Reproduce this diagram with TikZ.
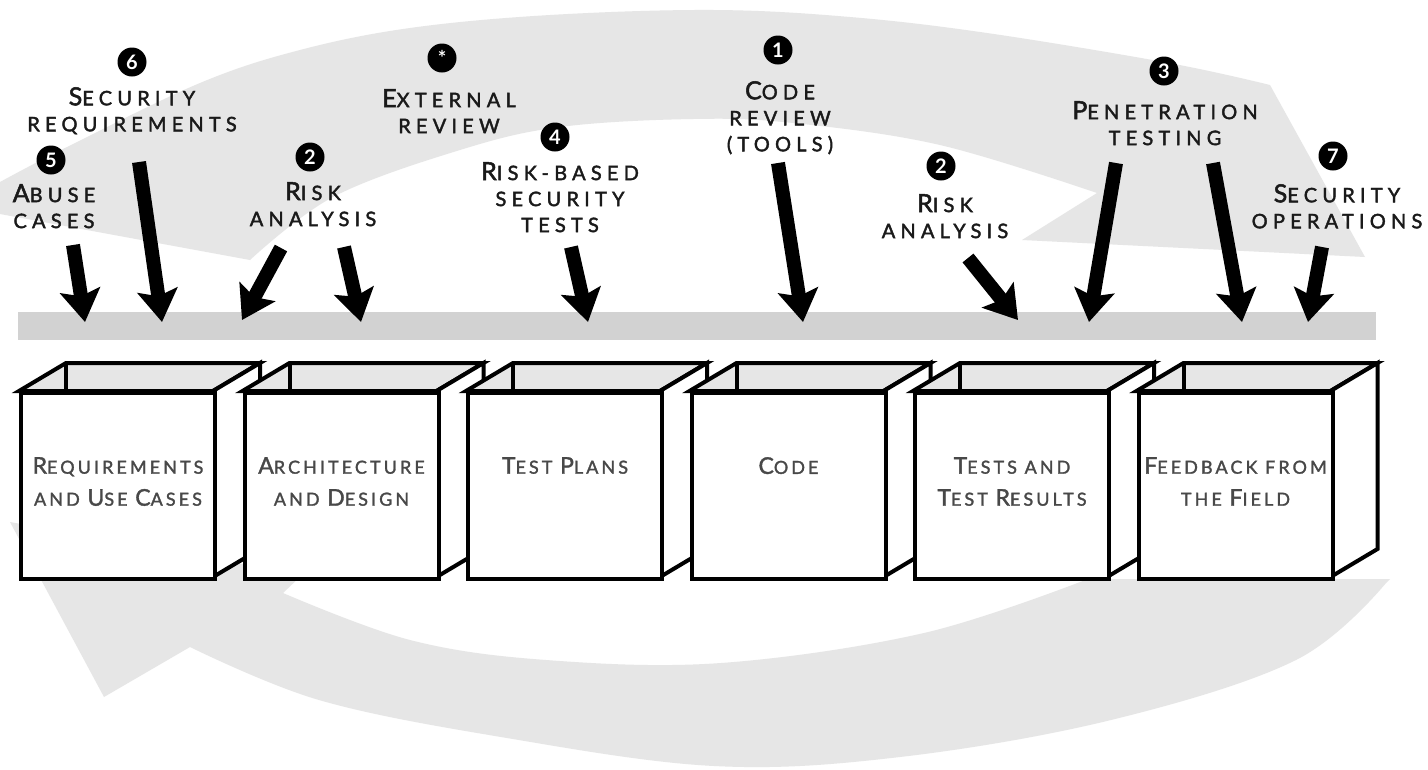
\documentclass[tikz,border=0pt]{standalone}
\usepackage{fontspec}
\setmainfont{Lato}
\newfontfamily\lblfont[LetterSpace=26,FakeBold=2]{Lato}
\newfontfamily\boxfont[LetterSpace=17,FakeBold=1.6]{Lato}
\usetikzlibrary{arrows.meta}

\definecolor{arcgray}{HTML}{E6E6E6}
\definecolor{bargray}{HTML}{D2D2D2}
\definecolor{ink}{HTML}{1A1A1A}

% capital letter of a small-caps word
\newcommand\BigT[1]{{\fontsize{25}{26}\selectfont #1}}
\newcommand\BigB[1]{{\fontsize{23}{32}\selectfont #1}}

\tikzset{
  toplbl/.style={font=\lblfont\fontsize{20}{26}\selectfont, align=center,
    inner sep=0pt, anchor=north, text=ink},
  boxlbl/.style={font=\boxfont\fontsize{18}{32}\selectfont, align=center,
    inner sep=0pt, anchor=north, text=ink!80},
  num/.style={circle, fill=black, minimum size=29pt, inner sep=0pt,
    text=white, font=\bfseries\fontsize{20}{20}\selectfont},
  touch/.style={line width=14pt, -{Stealth[length=32pt,width=40pt,inset=6pt]}},
  front/.style={draw, line width=4pt, fill=white, minimum width=194pt,
    minimum height=186pt, inner sep=0pt, anchor=north west},
  panel/.style={draw, line width=4pt, fill=white, line join=miter},
  topface/.style={draw, line width=4pt, fill=arcgray, line join=miter},
}

\begin{document}
\begin{tikzpicture}[x=1pt,y=-1pt]
\useasboundingbox (0,0) rectangle (1428,769);
\fill[white] (0,0) rectangle (1428,769);

% upper half of the cycle arrow, head on the right
\fill[arcgray] (0,214) -- (250,260)
  -- plot[smooth, tension=0.6] coordinates {(250,260) (333,197) (460,150) (560,127)
     (693,119) (793,123) (940,145) (1097,193)}
  -- (1022,240) -- (1365,257) -- (1270,85)
  -- plot[smooth, tension=0.6] coordinates {(1270,85) (1169,63) (987,33) (850,17)
     (714,10) (550,15) (410,28) (300,50) (200,83) (67,147) (0,182)}
  -- cycle;

% lower half of the cycle arrow, head on the left
\fill[arcgray] (10,522) -- (104,697) -- (190,647)
  -- plot[smooth, tension=0.6] coordinates {(190,647) (319,700) (501,737) (714,766)
     (900,757) (1111,720) (1296,660) (1386,583)}
  -- (1390,579) -- (1088,579)
  -- plot[smooth, tension=0.6] coordinates {(1088,579) (924,633) (721,663) (546,660)
     (410,640) (283,593)}
  -- (302,575) -- cycle;

% time line
\node[fill=bargray, minimum width=1358pt, minimum height=28pt, inner sep=0pt,
  anchor=north west] (bar) at (18,312) {};

% artifacts
\foreach \i in {0,...,5}{
  \pgfmathsetmacro\xo{19+223.5*\i}
  \draw[topface] (\xo,391) -- (\xo+47,363) -- (\xo+241,363) -- (\xo+194,391) -- cycle;
  \draw[line width=4pt] (\xo+47,363) -- (\xo+47,391);
  \draw[panel] (\xo+194,391) -- (\xo+241,363) -- (\xo+241,549) -- (\xo+194,577) -- cycle;
  \node[front] (box\i) at (\xo,391) {};
}

\node[boxlbl] (bl0) at (box0.center |- 0,457) {\BigB{R}EQUIREMENTS\\AND \BigB{U}SE \BigB{C}ASES};
\node[boxlbl] (bl1) at (box1.center |- 0,457) {\BigB{A}RCHITECTURE\\AND \BigB{D}ESIGN};
\node[boxlbl] (bl2) at (box2.center |- 0,457) {\BigB{T}EST \BigB{P}LANS};
\node[boxlbl] (bl3) at (box3.center |- 0,457) {\BigB{C}ODE};
\node[boxlbl] (bl4) at (box4.center |- 0,457) {\BigB{T}ESTS AND\\\BigB{T}EST \BigB{R}ESULTS};
\node[boxlbl] (bl5) at (box5.center |- 0,457) {\BigB{F}EEDBACK FROM\\THE \BigB{F}IELD};

% touchpoints
\node[num] (n6) at (132,62) {6};
\node[toplbl] (l6) at (132,87) {\BigT{S}ECURITY\\REQUIREMENTS};
\node[num] (n5) at (51,160) {5};
\node[toplbl] (l5) at (54,184) {\BigT{A}BUSE\\CASES};
\node[num] (n2a) at (310,157) {2};
\node[toplbl] (l2a) at (313,182) {\BigT{R}ISK\\ANALYSIS};
\node[num] (nx) at (442,58) {*};
\node[toplbl] (lx) at (449,89) {\BigT{E}XTERNAL\\REVIEW};
\node[num] (n4) at (555,137) {4};
\node[toplbl] (l4) at (560,162) {\BigT{R}ISK-BASED\\SECURITY\\TESTS};
\node[num] (n1) at (778,50) {1};
\node[toplbl] (l1) at (780,81) {\BigT{C}ODE\\REVIEW\\(TOOLS)};
\node[num] (n2b) at (941,166) {2};
\node[toplbl] (l2b) at (945,194) {\BigT{R}ISK\\ANALYSIS};
\node[num] (n3) at (1164,71) {3};
\node[toplbl] (l3) at (1165,101) {\BigT{P}ENETRATION\\TESTING};
\node[num] (n7) at (1333,156) {7};
\node[toplbl] (l7) at (1337,184) {\BigT{S}ECURITY\\OPERATIONS};

% arrow tails and tips on the time line
\coordinate (t5) at (73,245);    \coordinate (h5) at (85,322);
\coordinate (t6) at (139,162);   \coordinate (h6) at (162,322);
\coordinate (t2a) at (281,248);  \coordinate (h2a) at (242,320);
\coordinate (t2b) at (344,247);  \coordinate (h2b) at (361,322);
\coordinate (t4) at (571,247);   \coordinate (h4) at (588,322);
\coordinate (t1) at (778,163);   \coordinate (h1) at (803,322);
\coordinate (t2c) at (968,258);  \coordinate (h2c) at (1018,320);
\coordinate (t3a) at (1116,163); \coordinate (h3a) at (1089,322);
\coordinate (t3b) at (1213,163); \coordinate (h3b) at (1242,322);
\coordinate (t7) at (1322,247);  \coordinate (h7) at (1308,322);

\foreach \a in {5,6,2a,2b,4,1,2c,3a,3b,7}
  \draw[touch] (t\a) -- (h\a);
\end{tikzpicture}
\end{document}
